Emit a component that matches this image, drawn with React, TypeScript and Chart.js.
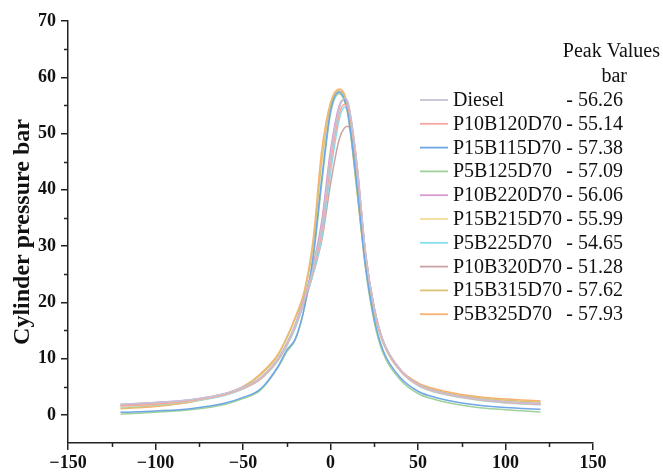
import React, { useEffect, useRef } from 'react';
import { Chart, registerables } from 'chart.js';

Chart.register(...registerables);

// Crank angle (deg)
const angles = [-120, -100, -80, -60, -50, -40, -30, -25, -20, -15, -10, -5, 0, 5, 8, 10, 15, 20, 25, 30, 40, 50, 60, 80, 100, 120];

const diesel = [1.9, 2.2, 2.7, 3.8, 4.9, 6.6, 10.0, 12.6, 16.0, 20.5, 26.0, 33.5, 46.0, 54.5, 56.26, 55.6, 45.0, 29.0, 19.0, 13.2, 8.0, 5.4, 4.2, 3.0, 2.3, 2.0];
const p10b120d70 = [1.6, 1.9, 2.5, 3.6, 4.7, 6.4, 9.8, 12.4, 15.8, 20.2, 25.5, 32.5, 44.5, 53.5, 55.14, 54.6, 44.5, 28.5, 18.8, 13.0, 7.8, 5.3, 4.1, 2.9, 2.2, 1.9];
const p15b115d70 = [0.45, 0.7, 1.1, 2.1, 3.1, 4.6, 8.6, 11.5, 13.6, 19.0, 28.0, 42.0, 54.0, 57.38, 56.0, 53.5, 41.0, 26.5, 17.0, 11.5, 6.6, 4.2, 3.1, 1.9, 1.3, 1.0];
const p5b125d70 = [0.12, 0.45, 0.9, 1.9, 2.9, 4.4, 8.4, 11.2, 13.4, 18.8, 27.5, 41.0, 53.5, 57.09, 55.8, 53.2, 40.5, 26.0, 16.5, 11.0, 6.2, 3.8, 2.7, 1.5, 0.9, 0.5];
const p10b220d70 = [1.85, 2.2, 2.7, 3.8, 4.9, 6.6, 10.0, 12.7, 16.2, 20.8, 26.5, 34.5, 47.0, 55.0, 56.06, 55.3, 44.8, 28.8, 19.0, 13.2, 8.0, 5.4, 4.2, 3.0, 2.3, 2.0];
const p15b215d70 = [1.5, 1.9, 2.5, 3.6, 4.7, 6.4, 9.8, 12.4, 15.9, 20.5, 26.0, 33.5, 46.0, 54.6, 55.99, 55.2, 44.6, 28.7, 19.0, 13.1, 7.9, 5.3, 4.1, 2.9, 2.2, 1.9];
const p5b225d70 = [1.4, 1.8, 2.4, 3.5, 4.6, 6.3, 9.6, 12.2, 15.5, 20.0, 25.0, 31.5, 43.0, 52.5, 54.65, 54.3, 44.5, 28.5, 18.8, 13.0, 7.8, 5.2, 4.0, 2.8, 2.1, 1.8];
const p10b320d70 = [1.7, 2.0, 2.6, 3.7, 4.8, 6.5, 9.9, 12.5, 15.8, 20.0, 25.0, 31.0, 41.0, 49.0, 51.0, 51.28, 43.5, 28.5, 19.0, 13.2, 8.0, 5.4, 4.2, 3.0, 2.3, 2.0];
const p15b315d70 = [1.2, 1.6, 2.3, 3.7, 5.0, 7.1, 10.6, 13.6, 17.2, 21.5, 30.0, 45.0, 55.0, 57.62, 56.6, 54.0, 40.0, 26.5, 18.0, 12.8, 7.8, 5.5, 4.4, 3.2, 2.6, 2.3];
const p5b325d70 = [1.1, 1.5, 2.3, 3.8, 5.0, 7.3, 10.8, 13.8, 17.5, 22.0, 31.0, 47.0, 55.5, 57.93, 57.0, 54.5, 40.5, 27.0, 18.3, 13.0, 8.0, 5.7, 4.6, 3.4, 2.8, 2.5];

const seriesNames = ['Diesel', 'P10B120D70', 'P15B115D70', 'P5B125D70', 'P10B220D70', 'P15B215D70', 'P5B225D70', 'P10B320D70', 'P15B315D70', 'P5B325D70'];
const seriesValues = [diesel, p10b120d70, p15b115d70, p5b125d70, p10b220d70, p15b215d70, p5b225d70, p10b320d70, p15b315d70, p5b325d70];
const peakValues = ['56.26', '55.14', '57.38', '57.09', '56.06', '55.99', '54.65', '51.28', '57.62', '57.93'];
const seriesColors = ['#c3c3d3', '#f6a8a0', '#6ea6e6', '#9fd19a', '#d89ad0', '#f4dc98', '#86ddf0', '#c9a3a3', '#dcc273', '#f9b070'];

const xTicks = [-150, -100, -50, 0, 50, 100, 150];
const yTicks = [0, 10, 20, 30, 40, 50, 60, 70];
const xMinorTicks = [-125, -75, -25, 25, 75, 125];
const yMinorTicks = [5, 15, 25, 35, 45, 55, 65];

const SERIF = '"Liberation Serif", "Times New Roman", serif';
const AXIS_COLOR = '#222';

const decorPlugin = {
  id: 'decor',
  afterDraw(chart: any) {
    const ctx = chart.ctx;
    const xs = chart.scales.x;
    const ys = chart.scales.y;
    ctx.save();
    ctx.strokeStyle = AXIS_COLOR;
    ctx.lineWidth = 1.5;
    xMinorTicks.forEach((v) => {
      const px = Math.round(xs.getPixelForValue(v)) + 0.5;
      ctx.beginPath();
      ctx.moveTo(px, ys.bottom);
      ctx.lineTo(px, ys.bottom + 4);
      ctx.stroke();
    });
    yMinorTicks.forEach((v) => {
      const py = Math.round(ys.getPixelForValue(v)) + 0.5;
      ctx.beginPath();
      ctx.moveTo(xs.left, py);
      ctx.lineTo(xs.left - 4, py);
      ctx.stroke();
    });

    // Legend with peak values
    ctx.font = `20px ${SERIF}`;
    ctx.fillStyle = '#111';
    ctx.textBaseline = 'alphabetic';
    ctx.textAlign = 'right';
    ctx.fillText('Peak Values', 660, 57);
    ctx.fillText('bar', 627, 82);
    seriesNames.forEach((name, i) => {
      const base = 106 + i * 23.8;
      ctx.strokeStyle = seriesColors[i];
      ctx.lineWidth = 1.8;
      ctx.beginPath();
      ctx.moveTo(420, base - 6);
      ctx.lineTo(448, base - 6);
      ctx.stroke();
      ctx.textAlign = 'left';
      ctx.fillText(name, 453, base);
      ctx.textAlign = 'right';
      ctx.fillText('- ' + peakValues[i], 623, base);
    });
    ctx.restore();
  },
};

export default function App() {
  const canvasRef = useRef<HTMLCanvasElement | null>(null);

  useEffect(() => {
    const canvas = canvasRef.current;
    if (!canvas) return;
    const datasets = seriesNames.map((name, i) => ({
      label: name,
      data: angles.map((a, j) => ({ x: a, y: seriesValues[i][j] })),
      borderColor: seriesColors[i],
      backgroundColor: seriesColors[i],
      borderWidth: 1.5,
      pointRadius: 0,
      fill: false,
      cubicInterpolationMode: 'monotone' as const,
    }));

    const chart = new Chart(canvas, {
      type: 'line',
      data: { datasets },
      options: {
        animation: false,
        responsive: false,
        devicePixelRatio: 1,
        layout: { padding: { top: 21, right: 70, left: 0, bottom: 0 } },
        plugins: { legend: { display: false }, tooltip: { enabled: false } },
        scales: {
          x: {
            type: 'linear',
            min: -150,
            max: 150,
            afterBuildTicks: (s: any) => {
              s.ticks = xTicks.map((value) => ({ value }));
            },
            afterFit: (s: any) => {
              s.height = 29;
            },
            ticks: {
              font: { family: SERIF, size: 18, weight: 'bold' },
              color: '#111',
              padding: 3,
              maxRotation: 0,
              autoSkip: false,
              callback: (v: any) => (v < 0 ? '\u2212' + Math.abs(v) : String(v)),
            },
            grid: { display: true, drawOnChartArea: false, drawTicks: true, tickLength: 7, color: AXIS_COLOR, lineWidth: 1.5 },
            border: { display: true, color: AXIS_COLOR, width: 1.5 },
          },
          y: {
            type: 'linear',
            min: -5,
            max: 70,
            afterBuildTicks: (s: any) => {
              s.ticks = yTicks.map((value) => ({ value }));
            },
            afterFit: (s: any) => {
              s.width = 68;
            },
            ticks: {
              font: { family: SERIF, size: 18, weight: 'bold' },
              color: '#111',
              padding: 5,
              autoSkip: false,
            },
            grid: { display: true, drawOnChartArea: false, drawTicks: true, tickLength: 7, color: AXIS_COLOR, lineWidth: 1.5 },
            border: { display: true, color: AXIS_COLOR, width: 1.5 },
            title: {
              display: true,
              text: 'Cylinder pressure bar',
              font: { family: SERIF, size: 24, weight: 'bold' },
              color: '#111',
              padding: { top: 8, bottom: 0 },
            },
          },
        },
      },
      plugins: [decorPlugin],
    });
    return () => chart.destroy();
  }, []);

  return (
    <div style={{ position: 'fixed', left: 0, top: 0, width: 663, height: 472, background: '#fff' }}>
      <canvas ref={canvasRef} width={663} height={472} style={{ display: 'block' }} />
    </div>
  );
}
